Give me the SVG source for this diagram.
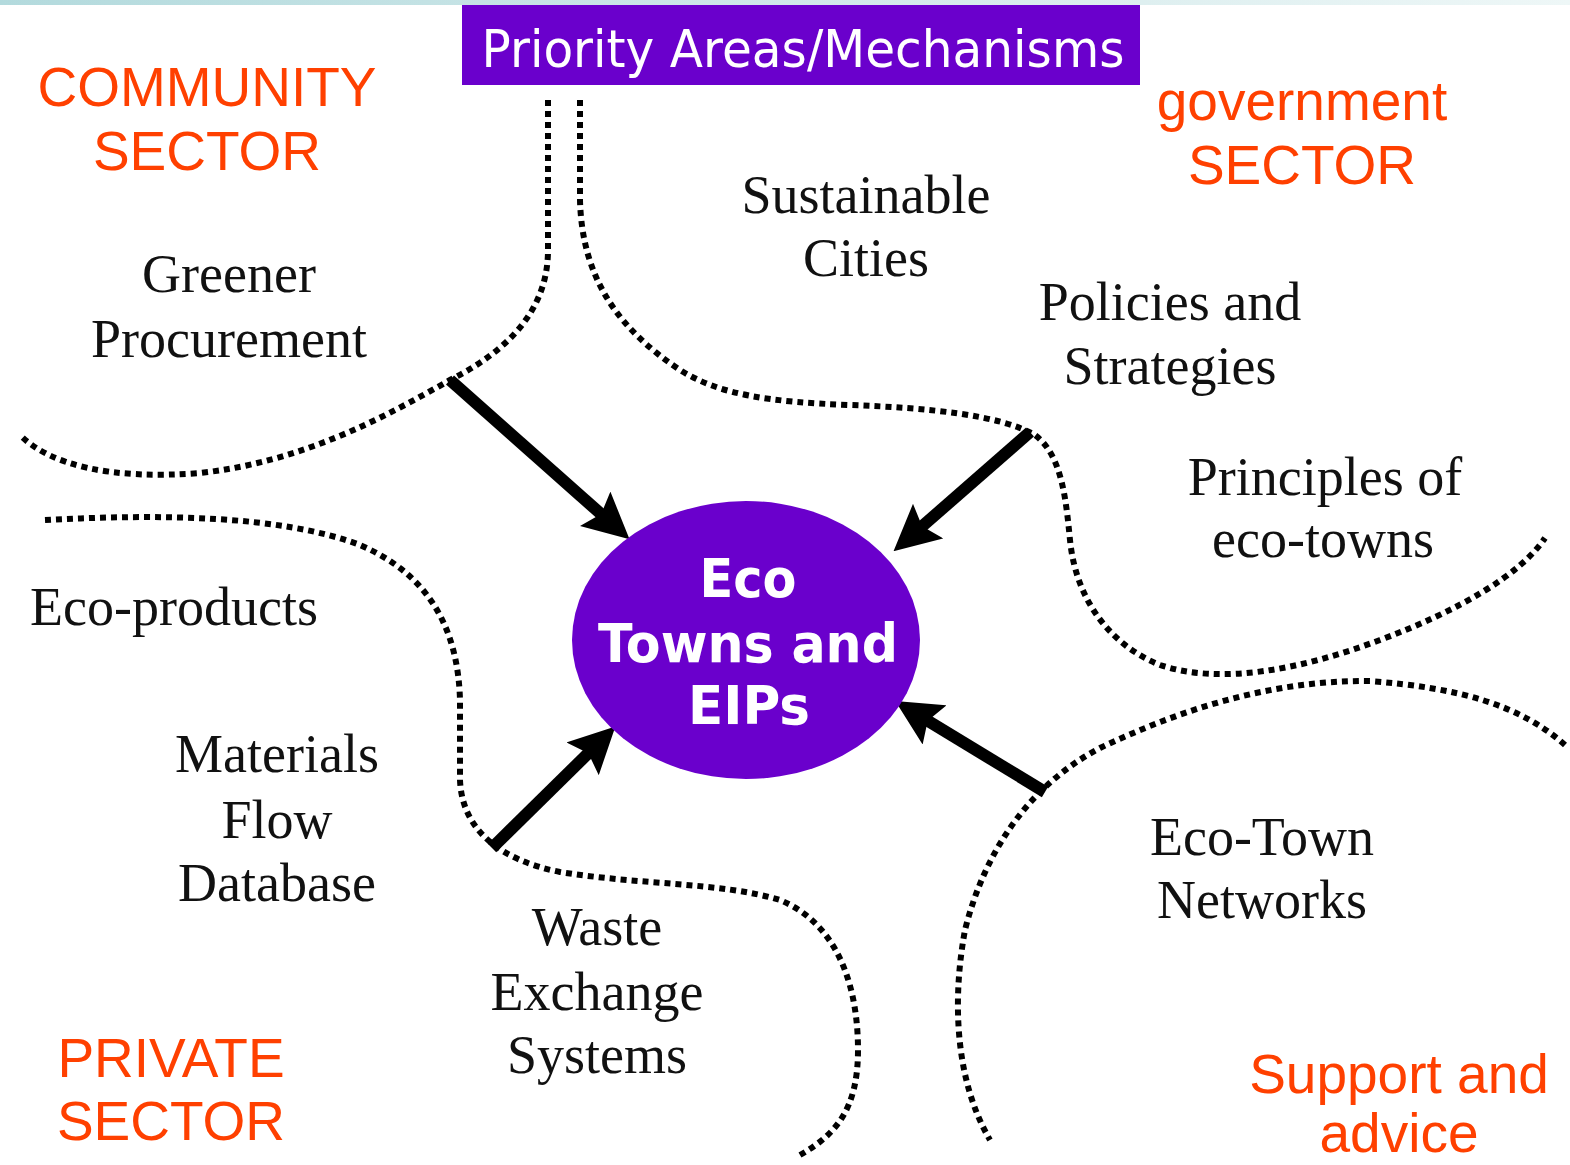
<svg xmlns="http://www.w3.org/2000/svg" width="1570" height="1165" viewBox="0 0 1570 1165">
<style>
.sector{font-family:"Liberation Sans",Arial,sans-serif;font-size:55px;fill:#ff4000;text-anchor:middle}
.item{font-family:"Liberation Serif","Times New Roman",serif;font-size:54px;fill:#111;text-anchor:middle}
.dots{fill:none;stroke:#000;stroke-width:6;stroke-dasharray:6 5}
.arrow{fill:none;stroke:#000;stroke-width:12;marker-end:url(#head)}
.hub{font-family:"DejaVu Sans",Verdana,sans-serif;font-weight:bold;font-size:54px;fill:#fff;text-anchor:middle}
</style>
<defs>
<linearGradient id="topband" x1="0" y1="0" x2="1" y2="0">
<stop offset="0" stop-color="#b3dadd"/>
<stop offset="1" stop-color="#eef7f7"/>
</linearGradient>
<marker id="head" viewBox="0 0 46 46" markerUnits="userSpaceOnUse" markerWidth="46" markerHeight="46" refX="14" refY="23" orient="auto">
<path d="M0,0 L46,23 L0,46 L8,23 z" fill="#000"/>
</marker>
</defs>
<rect x="0" y="0" width="1570" height="1165" fill="#fff"/>
<rect x="0" y="0" width="1570" height="5" fill="url(#topband)"/>

<g id="title">
<rect x="462" y="5" width="678" height="80" fill="#6a00cc"/>
<text x="803" y="67" font-family="DejaVu Sans,Verdana,sans-serif" font-size="52" fill="#fff" text-anchor="middle" textLength="643" lengthAdjust="spacingAndGlyphs">Priority Areas/Mechanisms</text>
</g>

<g id="connectors">
<path class="dots" d="M548,100 L548,250 C548,300 520,345 450,380 C380,420 300,462 200,473 C110,480 50,465 20,435"/>
<path class="dots" d="M580,100 L580,200 C582,280 620,330 680,370 C720,395 770,402 850,405 C930,408 1000,415 1035,435 C1062,455 1066,500 1070,540 C1076,600 1110,645 1160,665 C1220,685 1300,670 1380,640 C1460,610 1520,575 1545,538"/>
<path class="dots" d="M45,520 C160,514 280,515 360,545 C430,575 458,630 460,700 L460,780 C462,830 500,860 560,872 C640,885 720,882 780,900 C840,925 858,990 858,1050 C858,1110 835,1135 800,1155"/>
<path class="dots" d="M1565,745 C1520,705 1460,688 1370,681 C1270,680 1180,710 1100,748 C1030,785 985,850 965,930 C952,1000 955,1080 990,1140"/>
<line class="arrow" x1="450" y1="380" x2="605.6" y2="518.1"/>
<line class="arrow" x1="1030" y1="432" x2="917.6" y2="530.3"/>
<line class="arrow" x1="492" y1="848" x2="592.6" y2="749"/>
<line class="arrow" x1="1045" y1="792" x2="922.6" y2="717.6"/>
</g>

<g id="hub">
<ellipse cx="746" cy="640" rx="174" ry="139" fill="#6a00cc"/>
<text class="hub" x="748" y="597" textLength="97" lengthAdjust="spacingAndGlyphs">Eco</text>
<text class="hub" x="748" y="662" textLength="300" lengthAdjust="spacingAndGlyphs">Towns and</text>
<text class="hub" x="749" y="724" textLength="122" lengthAdjust="spacingAndGlyphs">EIPs</text>
</g>

<g id="community-sector">
<text class="sector" x="207" y="106">COMMUNITY</text>
<text class="sector" x="207" y="170">SECTOR</text>
</g>
<g id="government-sector">
<text class="sector" x="1302" y="120">government</text>
<text class="sector" x="1302" y="184">SECTOR</text>
</g>
<g id="private-sector">
<text class="sector" x="171" y="1077">PRIVATE</text>
<text class="sector" x="171" y="1140">SECTOR</text>
</g>
<g id="support-advice">
<text class="sector" x="1399" y="1093">Support and</text>
<text class="sector" x="1399" y="1152">advice</text>
</g>

<g id="greener-procurement">
<text class="item" x="229" y="292">Greener</text>
<text class="item" x="229" y="357">Procurement</text>
</g>
<g id="sustainable-cities">
<text class="item" x="866" y="213">Sustainable</text>
<text class="item" x="866" y="276">Cities</text>
</g>
<g id="policies-strategies">
<text class="item" x="1170" y="320">Policies and</text>
<text class="item" x="1170" y="384">Strategies</text>
</g>
<g id="principles-ecotowns">
<text class="item" x="1325" y="495">Principles of</text>
<text class="item" x="1323" y="557">eco-towns</text>
</g>
<g id="eco-products">
<text class="item" x="174" y="625">Eco-products</text>
</g>
<g id="materials-flow">
<text class="item" x="277" y="772">Materials</text>
<text class="item" x="277" y="838">Flow</text>
<text class="item" x="277" y="901">Database</text>
</g>
<g id="waste-exchange">
<text class="item" x="597" y="945">Waste</text>
<text class="item" x="597" y="1010">Exchange</text>
<text class="item" x="597" y="1073">Systems</text>
</g>
<g id="ecotown-networks">
<text class="item" x="1262" y="855">Eco-Town</text>
<text class="item" x="1262" y="918">Networks</text>
</g>
</svg>
